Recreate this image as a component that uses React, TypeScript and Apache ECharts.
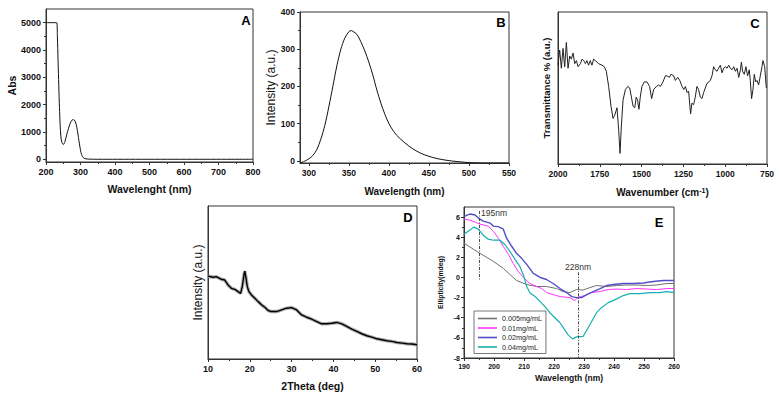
import React, { useEffect, useRef } from "react";
import * as echarts from "echarts";

const FONT = "'Liberation Sans', Arial, Helvetica, sans-serif";

// Panel A: UV-vis absorbance
const aWavelength = [200, 231, 233, 235, 237, 239, 241, 243, 246, 250, 255, 260, 265, 270, 275, 280, 284, 288, 291, 294, 297, 300, 303, 306, 310, 316, 325, 350, 800];
const aAbs = [5000, 5000, 4500, 3600, 2700, 1900, 1250, 850, 620, 540, 650, 900, 1120, 1310, 1430, 1450, 1400, 1250, 1050, 800, 560, 330, 170, 90, 40, 15, 5, 0, 0];
const aYTicks = [0, 1000, 2000, 3000, 4000, 5000];
const aYMinor = [500, 1500, 2500, 3500, 4500];

// Panel B: fluorescence
const bWavelength = [289, 295, 300, 305, 310, 315, 320, 325, 330, 335, 340, 345, 350, 353, 355, 360, 365, 370, 375, 380, 385, 390, 395, 400, 405, 410, 420, 430, 440, 450, 460, 470, 480, 490, 500, 520, 550];
const bIntensity = [-6, -1, 5, 14, 30, 58, 95, 145, 200, 255, 300, 330, 347, 350, 348, 340, 320, 295, 265, 230, 190, 155, 125, 100, 82, 68, 48, 32, 20, 12, 6, 2, -1, -3, -5, -6, -6];
const bXTicks = [300, 350, 400, 450, 500, 550];
const bXMinor = [325, 375, 425, 475, 525];
const bYTicks = [0, 100, 200, 300, 400];
const bYMinor = [50, 150, 250, 350];

// Panel C: FTIR
const cWavenumber = [2000, 1990, 1980, 1970, 1960, 1950, 1940, 1930, 1920, 1910, 1900, 1890, 1880, 1866, 1856, 1846, 1836, 1827, 1817, 1807, 1797, 1787, 1777, 1757, 1737, 1723, 1711, 1697, 1683, 1671, 1661, 1647, 1637, 1629, 1621, 1611, 1597, 1583, 1571, 1561, 1551, 1541, 1532, 1524, 1516, 1508, 1498, 1484, 1468, 1452, 1440, 1428, 1412, 1398, 1388, 1372, 1358, 1348, 1334, 1324, 1308, 1298, 1284, 1272, 1258, 1248, 1238, 1228, 1219, 1207, 1199, 1189, 1179, 1169, 1159, 1149, 1139, 1129, 1119, 1109, 1089, 1079, 1069, 1059, 1049, 1039, 1029, 1019, 1009, 999, 989, 979, 969, 959, 949, 939, 929, 919, 909, 903, 896, 886, 876, 866, 856, 850, 842, 834, 826, 818, 810, 800, 790, 780, 774, 764, 754];
const cTransmittance = [65, 75, 63, 76, 64, 80, 63, 71, 69, 73, 66, 68, 64, 66, 69, 68, 66, 68, 65, 68, 65, 69, 68, 66, 65, 64, 61, 51, 38, 30, 32, 37, 22, 7, 25, 42, 49, 51, 50, 44, 38, 37, 44, 42, 36, 44, 51, 54, 54, 51, 43, 49, 51, 52, 51, 54, 58, 58, 57, 59, 58, 55, 57, 55, 51, 49, 51, 47, 48, 33, 40, 39, 44, 51, 49, 44, 43, 47, 50, 53, 55, 58, 64, 62, 61, 63, 65, 60, 63, 64, 63, 65, 63, 62, 64, 61, 63, 57, 62, 67, 61, 59, 64, 58, 62, 55, 43, 49, 59, 54, 55, 52, 58, 64, 68, 64, 50];

// Panel D: XRD
const dTheta = [10, 11.2, 12, 13.2, 14, 14.8, 15.6, 16.4, 17.2, 17.8, 18.2, 18.6, 18.8, 19.1, 19.4, 19.8, 20.4, 21.2, 22, 22.8, 23.6, 24.4, 25.2, 26.4, 27.6, 28.8, 30, 31.2, 32.4, 33.6, 34.8, 36, 37.2, 38.4, 39.6, 40.8, 42, 43.2, 44.4, 45.6, 46.8, 48, 49.2, 50.4, 51.6, 52.8, 54, 55.2, 56.4, 57.6, 58.8, 60];
const dIntensity = [54.2, 53.4, 53.8, 52.1, 51.6, 48.4, 46.2, 45.5, 44.0, 42.9, 47.3, 54.9, 57.5, 52.7, 47.3, 44.0, 41.9, 39.7, 37.5, 35.4, 33.8, 31.7, 31.0, 31.0, 32.1, 33.2, 33.6, 32.1, 28.8, 27.3, 26.0, 24.5, 23.0, 23.0, 23.4, 23.9, 23.0, 21.3, 19.5, 18.0, 16.5, 15.2, 14.3, 13.2, 12.6, 11.9, 11.5, 10.8, 10.4, 10.0, 9.8, 9.3];

// Panel E: CD spectra
const eNames = ["0.005mg/mL", "0.01mg/mL", "0.02mg/mL", "0.04mg/mL"];
const eColors = ["#707070", "#ff33ff", "#5050c8", "#17aeb0"];
const eX005 = [190, 195.3, 199.8, 203.1, 205.3, 207.5, 210.9, 214.2, 217.5, 220.9, 223, 225.3, 227.5, 229.7, 232, 234.2, 237.5, 240.9, 244.2, 247.6, 250.9, 254.2, 257.6, 260];
const eY005 = [3.4, 2.4, 1.6, 0.9, 0.3, -0.3, -0.7, -0.9, -0.9, -1.1, -1.4, -1.5, -1.2, -1.25, -1.0, -0.8, -0.9, -0.8, -0.75, -0.75, -0.8, -0.75, -0.6, -0.6];
const eX01 = [190, 192, 195.3, 198.1, 199.8, 201.4, 203.1, 204.8, 206.4, 208.1, 209.8, 212, 214.2, 215.9, 217.5, 219.7, 222, 225.3, 226.9, 228.1, 230.3, 232.5, 235.3, 238.1, 240.9, 244.2, 247.6, 250.9, 254.2, 257.6, 260];
const eY01 = [5.8, 5.7, 5.3, 5.1, 4.6, 3.9, 3.1, 2.3, 1.4, 0.6, 0, -0.6, -0.9, -1.1, -1.5, -1.7, -1.9, -2.0, -2.3, -1.95, -1.8, -1.5, -1.4, -1.2, -1.15, -1.2, -1.1, -1.15, -1.2, -1.1, -1.1];
const eX02 = [190, 191, 192, 193.7, 194.8, 196.4, 198.7, 199.8, 201.4, 203.1, 204.2, 205.9, 207.5, 209.2, 210.9, 213.1, 215.4, 217.5, 219.7, 222, 224.2, 225.9, 227.5, 229.2, 230.9, 233.1, 235.4, 237.5, 239.8, 243.1, 246.4, 249.8, 253.1, 256.5, 260];
const eY02 = [6.05, 6.2, 6.3, 6.2, 5.9, 5.6, 5.4, 5.1, 5.05, 4.8, 3.9, 3.1, 2.4, 1.9, 1.3, 0.4, 0, -0.2, -0.6, -1.1, -1.5, -1.9, -2.0, -2.0, -1.7, -1.4, -1.1, -0.8, -0.7, -0.6, -0.6, -0.55, -0.4, -0.3, -0.3];
const eX04 = [190, 191.4, 193.3, 194.8, 196.4, 198.1, 199.8, 202, 203.7, 205.3, 207, 208.6, 209.8, 210.9, 212, 213.7, 215.4, 217, 218.6, 220.3, 222, 223.6, 224.7, 226.2, 227.5, 229.7, 231, 232.5, 234.2, 235.8, 238.1, 240.4, 243.1, 245.3, 248.6, 252, 255.3, 257.6, 260];
const eY04 = [4.3, 4.6, 5.0, 4.8, 4.2, 3.8, 3.7, 3.7, 3.25, 2.6, 1.8, 1.1, 0.25, -0.9, -1.55, -1.9, -2.4, -2.9, -3.5, -4.0, -4.5, -5.2, -5.7, -6.1, -5.9, -5.85, -5.2, -4.4, -3.5, -3.0, -2.5, -2.2, -1.8, -1.6, -1.6, -1.5, -1.5, -1.4, -1.5];
const eYTicks = [-8, -6, -4, -2, 0, 2, 4, 6];
const eYMinor = [-7, -5, -3, -1, 1, 3, 5];
const eMarkers = [
  { x: 195, top: 6.6, bottom: -0.3, label: "195nm", labelY: 6.4 },
  { x: 228, top: 0.5, bottom: -8, label: "228nm", labelY: 0.5 },
];

const panelLetters = ["A", "B", "C", "D", "E"];

const zip = (xs: number[], ys: number[]) => xs.map((x, i) => [x, ys[i]]);

const AX = "#333";
const plain = (v: number) => String(v);

function makeAxis(kind: "x" | "y", grid: number, min: number, max: number, fs: number, name: string, nameGap: number, opts: any = {}) {
  const { axisLabel = {}, axisTick = {}, nameTextStyle = {}, ...rest } = opts;
  return {
    type: "value", gridIndex: grid, min, max, position: kind === "x" ? "bottom" : "left",
    name, nameLocation: "middle", nameGap, nameRotate: kind === "y" ? 90 : 0,
    nameTextStyle: { fontFamily: FONT, fontWeight: "bold", fontSize: fs + 1.5, color: "#111", ...nameTextStyle },
    axisLine: { show: true, onZero: false, lineStyle: { color: AX, width: 1 } },
    axisTick: { show: true, inside: false, length: 3, lineStyle: { color: AX }, ...axisTick },
    axisLabel: { fontFamily: FONT, fontWeight: "bold", fontSize: fs, color: "#111", margin: 5, formatter: plain, ...axisLabel },
    splitLine: { show: false },
    ...rest,
  };
}

function minorAxis(kind: "x" | "y", grid: number, min: number, max: number, values: number[]) {
  return {
    type: "value", gridIndex: grid, min, max, position: kind === "x" ? "bottom" : "left",
    axisLine: { show: false, onZero: false },
    axisTick: { show: true, inside: false, length: 2, customValues: values, lineStyle: { color: AX } },
    axisLabel: { show: false, customValues: values },
    splitLine: { show: false },
  };
}

const minorTick = { show: true, splitNumber: 2, length: 2, lineStyle: { color: AX } };

const grids = [
  { left: 46, top: 9, width: 207, height: 153 },
  { left: 300, top: 12, width: 209, height: 151 },
  { left: 558, top: 12, width: 209, height: 152 },
  { left: 208, top: 206, width: 209, height: 153 },
  { left: 464, top: 207, width: 210, height: 151 },
].map((g) => ({ ...g, show: true, borderColor: AX, borderWidth: 1, containLabel: false }));

const xAxes = [
  makeAxis("x", 0, 200, 800, 9, "Wavelenght (nm)", 21, { interval: 100, minorTick }),
  makeAxis("x", 1, 289, 550, 8.5, "Wavelength (nm)", 23, {
    axisLabel: { customValues: bXTicks },
    axisTick: { customValues: bXTicks },
  }),
  minorAxis("x", 1, 289, 550, bXMinor),
  makeAxis("x", 2, 750, 2000, 8.5, "Wavenumber (cm{sup|-1})", 23, {
    inverse: true, interval: 250, minorTick,
    nameTextStyle: {
      fontSize: 10,
      rich: { sup: { fontFamily: FONT, fontWeight: "bold", fontSize: 7, color: "#111", verticalAlign: "top", lineHeight: 8 } },
    },
  }),
  makeAxis("x", 3, 10, 60, 9, "2Theta (deg)", 21, { interval: 10, minorTick }),
  makeAxis("x", 4, 190, 260, 7, "Wavelength (nm)", 15, {
    interval: 10, minorTick,
    nameTextStyle: { fontSize: 8.5 },
  }),
];

const yAxes = [
  makeAxis("y", 0, -100, 5500, 9, "Abs", 28, {
    axisLabel: { customValues: aYTicks },
    axisTick: { customValues: aYTicks },
    nameTextStyle: { fontSize: 10.5 },
  }),
  minorAxis("y", 0, -100, 5500, aYMinor),
  makeAxis("y", 1, -6, 400, 8.5, "Intensity (a.u.)", 19, {
    axisLabel: { customValues: bYTicks },
    axisTick: { customValues: bYTicks },
    nameTextStyle: { fontWeight: "normal", fontSize: 12 },
  }),
  minorAxis("y", 1, -6, 400, bYMinor),
  makeAxis("y", 2, 0, 100, 9, "Transmittance % (a.u.)", 7, {
    axisLabel: { show: false }, axisTick: { show: false },
    nameTextStyle: { fontSize: 9.5 },
  }),
  makeAxis("y", 3, 0, 100, 9, "Intensity (a.u.)", 4, {
    axisLabel: { show: false }, axisTick: { show: false },
    nameTextStyle: { fontWeight: "normal", fontSize: 12 },
  }),
  makeAxis("y", 4, -8, 7, 7, "Ellipticity(mdeg)", 20, {
    axisLabel: { margin: 4, customValues: eYTicks },
    axisTick: { customValues: eYTicks },
    nameTextStyle: { fontSize: 6.8 },
  }),
  minorAxis("y", 4, -8, 7, eYMinor),
];

const eXs = [eX005, eX01, eX02, eX04];
const eYs = [eY005, eY01, eY02, eY04];
const eWidths = [1, 1, 1.4, 1.2];

const series: any[] = [
  { type: "line", xAxisIndex: 0, yAxisIndex: 0, data: zip(aWavelength, aAbs), symbol: "none", smooth: 0.3, lineStyle: { color: "#111", width: 1 } },
  { type: "line", xAxisIndex: 1, yAxisIndex: 2, data: zip(bWavelength, bIntensity), symbol: "none", smooth: 0.3, lineStyle: { color: "#111", width: 1 } },
  { type: "line", xAxisIndex: 3, yAxisIndex: 4, data: zip(cWavenumber, cTransmittance), symbol: "none", lineStyle: { color: "#222", width: 1 } },
  { type: "line", xAxisIndex: 4, yAxisIndex: 5, data: zip(dTheta, dIntensity), symbol: "none", lineStyle: { color: "#9a9a9a", width: 3.5, opacity: 0.8 } },
  { type: "line", xAxisIndex: 4, yAxisIndex: 5, data: zip(dTheta, dIntensity), symbol: "none", lineStyle: { color: "#000", width: 1.4 } },
  ...eNames.map((name, i) => ({
    type: "line", name, xAxisIndex: 5, yAxisIndex: 6, data: zip(eXs[i], eYs[i]), symbol: "none",
    itemStyle: { color: eColors[i] }, lineStyle: { color: eColors[i], width: eWidths[i] },
  })),
];

// annotation lines and labels on panel E
series[5].markLine = {
  symbol: "none", silent: true,
  lineStyle: { color: "#333", type: [3, 1.5, 1, 1.5], width: 0.9 },
  label: { show: false },
  data: eMarkers.map((m) => [{ coord: [m.x, m.top] }, { coord: [m.x, m.bottom] }]),
};
series[5].markPoint = {
  symbol: "circle", symbolSize: 0, silent: true,
  data: eMarkers.map((m, i) => ({
    coord: [m.x, m.labelY],
    label: {
      show: true, formatter: m.label, position: i === 0 ? "right" : "top", distance: i === 0 ? 2 : 1,
      fontFamily: FONT, fontSize: 8.5, color: "#333",
    },
  })),
};

const letterPos = [[246, 20], [501, 22], [755, 23], [408, 217], [659, 222]];

const option: any = {
  animation: false,
  backgroundColor: "#fff",
  grid: grids,
  xAxis: xAxes,
  yAxis: yAxes,
  series,
  legend: {
    data: eNames.map((n) => ({ name: n, icon: "rect" })), left: 474, top: 311, orient: "vertical",
    itemWidth: 19, itemHeight: 1.6, itemGap: 2.5, padding: [4, 4, 3, 4],
    borderColor: "#555", borderWidth: 0.8, backgroundColor: "#fff",
    textStyle: { fontFamily: FONT, fontSize: 7.2, color: "#222" },
  },
  graphic: panelLetters.map((t, i) => ({
    type: "text", x: letterPos[i][0], y: letterPos[i][1], z: 100,
    style: { text: t, fontFamily: FONT, fontWeight: "bold", fontSize: 13, fill: "#000", textAlign: "center", textVerticalAlign: "middle" },
  })),
};

export default function App() {
  const ref = useRef<HTMLDivElement>(null);
  useEffect(() => {
    const chart = echarts.init(ref.current!, null, { renderer: "svg" });
    chart.setOption(option);
    return () => chart.dispose();
  }, []);
  return <div ref={ref} style={{ position: "absolute", left: 0, top: 0, width: 779, height: 396, background: "#fff" }} />;
}
